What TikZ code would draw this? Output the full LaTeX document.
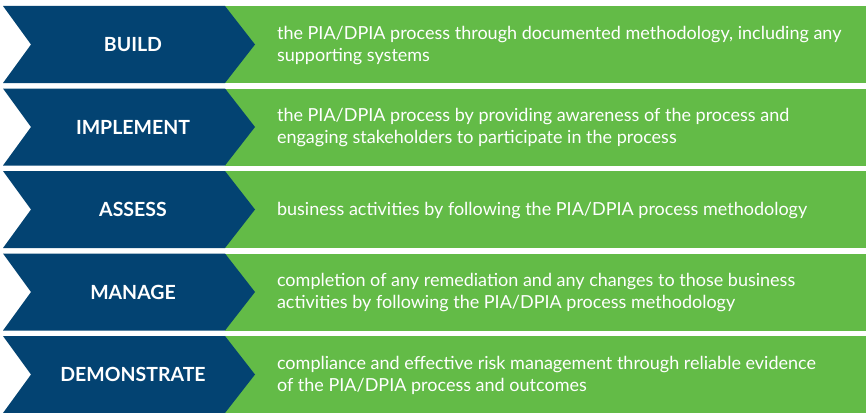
\documentclass[tikz,border=0pt]{standalone}
\usepackage{fontspec}
\setmainfont{Lato}
\definecolor{stepblue}{RGB}{3,67,114}
\definecolor{stepgreen}{RGB}{99,187,71}

\begin{document}
\begin{tikzpicture}[x=1pt,y=-1pt,
  steplabel/.style={text=white, font=\fontsize{19.5}{22}\selectfont\bfseries},
  steptext/.style={text=white, anchor=west, align=left, font=\fontsize{18}{22}\selectfont}]
  \useasboundingbox (0,0) rectangle (866,412);
  \foreach \i/\lab/\txt in {
    0/BUILD/{the PIA/DPIA process through documented methodology, including any\\supporting systems},
    1/IMPLEMENT/{the PIA/DPIA process by providing awareness of the process and\\engaging stakeholders to participate in the process},
    2/ASSESS/{business activities by following the PIA/DPIA process methodology},
    3/MANAGE/{completion of any remediation and any changes to those business\\activities by following the PIA/DPIA process methodology},
    4/DEMONSTRATE/{compliance and effective risk management through reliable evidence\\of the PIA/DPIA process and outcomes}}
  {
    \pgfmathsetmacro{\top}{6+82.5*\i}
    \pgfmathsetmacro{\mid}{\top+38.5}
    \pgfmathsetmacro{\bot}{\top+77}
    % green band, then the blue chevron over it
    \fill[stepgreen] (225,\top) rectangle (866,\bot);
    \fill[stepblue] (3,\top) -- (225,\top) -- (255,\mid) -- (225,\bot)
      -- (3,\bot) -- (31,\mid) -- cycle;
    \node[steplabel] (lab\i) at (133,\mid) {\lab};
    \node[steptext] (txt\i) at (273.5,\mid+1) {\txt};
  }
\end{tikzpicture}
\end{document}
